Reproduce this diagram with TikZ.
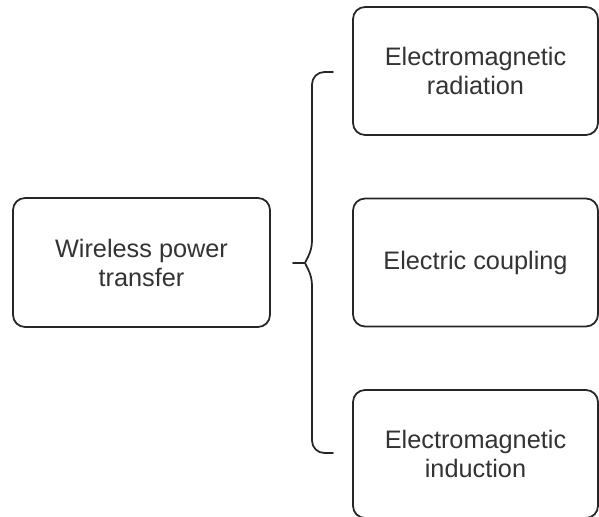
\documentclass[tikz,border=0pt]{standalone}
\usepackage{fontspec}
\setmainfont{Liberation Sans}
\begin{document}
\begin{tikzpicture}[x=0.02cm, y=-0.02cm,
    box/.style={draw=black!85, line width=1pt, rounded corners=0.24cm, align=center,
        text=black!80, font=\fontsize{14.4}{16.5}\selectfont, inner sep=0pt},
    leftbox/.style={box, minimum width=5.14cm, minimum height=2.58cm},
    rightbox/.style={box, minimum width=4.9cm, minimum height=2.56cm},
    brace/.style={draw=black!85, line width=1pt, line cap=round}]
\useasboundingbox (0,0) rectangle (599,517);
    % boxes
    \node[leftbox] (wpt) at (141.5,262.5) {Wireless power\\transfer};
    \node[rightbox] (emr) at (475.5,71) {Electromagnetic\\radiation};
    \node[rightbox] (ec) at (475.5,262.5) {Electric coupling};
    \node[rightbox] (emi) at (475.5,454) {Electromagnetic\\induction};

    % curly bracket
    \coordinate (btop) at (333,72);
    \coordinate (bbot) at (333,453);
    \coordinate (btip) at (293,263);
    \coordinate (bmid) at (305,263);
    \draw[brace, rounded corners=7] (btop) -- (312,72) -- (312,240);
    \draw[brace, rounded corners=7] (312,286) -- (312,453) -- (bbot);
    \draw[brace] (312,240) .. controls (312,252) and (307,258) .. (bmid)
        .. controls (307,268) and (312,274) .. (312,286);
    \draw[brace] (bmid) -- (btip);
\end{tikzpicture}
\end{document}
